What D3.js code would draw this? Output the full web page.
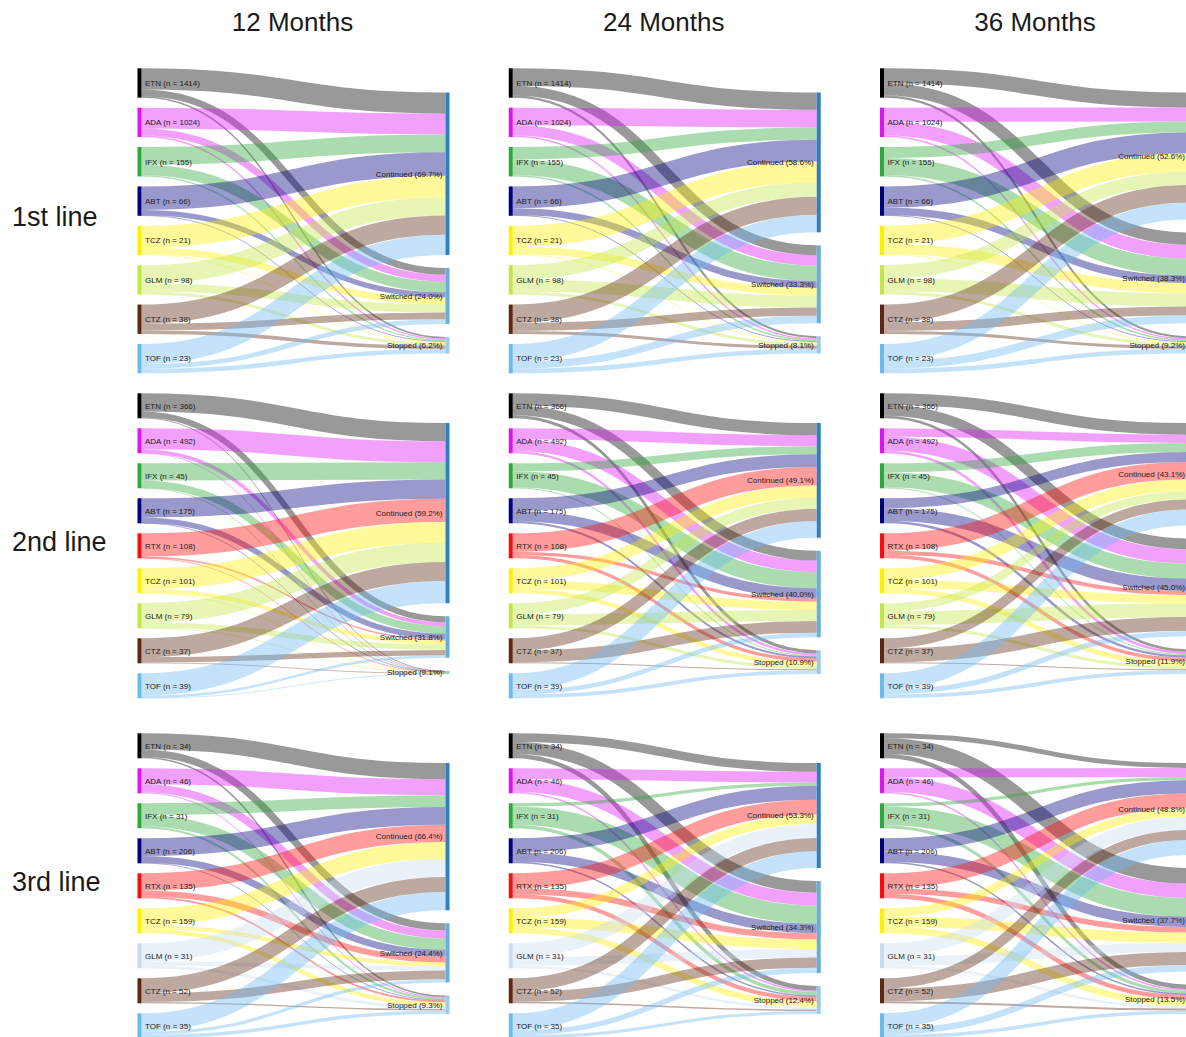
<!DOCTYPE html>
<html>
<head>
<meta charset="utf-8">
<title>Treatment persistence by line of therapy</title>
<script src="https://cdn.jsdelivr.net/npm/d3@7"></script>
<style>
  html, body { margin: 0; padding: 0; background: #fff; }
  svg { display: block; font-family: "Liberation Sans", Arial, Helvetica, sans-serif; }
</style>
</head>
<body>
<script>
// ---- data ------------------------------------------------------------
const periods = ["12 Months", "24 Months", "36 Months"];
const lines = ["1st line", "2nd line", "3rd line"];
const outcomes = ["Continued", "Switched", "Stopped"];

const drugsLine1 = ["ETN", "ADA", "IFX", "ABT", "TCZ", "GLM", "CTZ", "TOF"];
const drugsLine23 = ["ETN", "ADA", "IFX", "ABT", "RTX", "TCZ", "GLM", "CTZ", "TOF"];

const countsLine1 = [1414, 1024, 155, 66, 21, 98, 38, 23];
const countsLine2 = [366, 492, 45, 175, 108, 101, 79, 37, 39];
const countsLine3 = [34, 46, 31, 206, 135, 159, 31, 52, 35];

// overall outcome percentages shown on the right-hand nodes [period][outcome]
const outcomePctLine1 = [[69.7, 24.0, 6.2], [58.6, 33.3, 8.1], [52.6, 38.3, 9.2]];
const outcomePctLine2 = [[59.2, 31.8, 9.1], [49.1, 40.0, 10.9], [43.1, 45.0, 11.9]];
const outcomePctLine3 = [[66.4, 24.4, 9.3], [53.3, 34.3, 12.4], [48.8, 37.7, 13.5]];

// per-drug split (% continued, % switched, % stopped)
const line1m12 = [[72, 23, 5], [71, 24, 5], [60, 36, 4], [80, 18, 2], [74, 23, 3], [62, 28, 10], [65, 23, 12], [69, 16, 15]];
const line1m24 = [[59, 34, 7], [60, 35, 5], [42, 53, 5], [74, 23, 3], [71, 26, 3], [49, 41, 10], [62, 28, 10], [59, 25, 16]];
const line1m36 = [[51, 42, 7], [48, 47, 5], [37, 58, 5], [72, 25, 3], [62, 35, 3], [45, 45, 10], [60, 30, 10], [57, 27, 16]];

const line2m12 = [[73, 24, 3], [84, 15, 1], [69, 30, 1], [77, 22, 1], [93, 6, 1], [83, 16, 1], [77, 22, 1], [76, 21, 3], [89, 10, 1]];
const line2m24 = [[49, 39, 12], [44, 47, 9], [32, 64, 4], [51, 41, 8], [74, 13, 13], [49, 33, 18], [44, 44, 12], [49, 47, 4], [67, 18, 15]];
const line2m36 = [[47, 43, 10], [33, 57, 10], [36, 60, 4], [40, 50, 10], [70, 16, 14], [47, 33, 20], [33, 55, 12], [40, 56, 4], [64, 21, 15]];

const line3m12 = [[65, 29, 6], [64, 32, 4], [47, 45, 8], [71, 27, 2], [69, 24, 7], [67, 16, 17], [73, 16, 11], [60, 35, 5], [73, 13, 14]];
const line3m24 = [[35, 47, 18], [43, 51, 6], [13, 73, 14], [56, 38, 6], [60, 24, 16], [37, 39, 24], [56, 34, 10], [53, 41, 6], [67, 21, 12]];
const line3m36 = [[20, 62, 18], [36, 58, 6], [13, 75, 12], [53, 41, 6], [60, 22, 18], [33, 41, 26], [53, 37, 10], [40, 52, 8], [60, 26, 14]];

const rowsSpec = [
  { drugs: drugsLine1, counts: countsLine1, pct: outcomePctLine1, flows: [line1m12, line1m24, line1m36] },
  { drugs: drugsLine23, counts: countsLine2, pct: outcomePctLine2, flows: [line2m12, line2m24, line2m36] },
  { drugs: drugsLine23, counts: countsLine3, pct: outcomePctLine3, flows: [line3m12, line3m24, line3m36] }
];

// ---- colours -----------------------------------------------------------
const drugColor = {
  ETN: "#000000", ADA: "#dc14f5", IFX: "#2ea83a", ABT: "#00007e", RTX: "#ff0a0a",
  TCZ: "#fff000", GLM: "#c3e646", CTZ: "#5c2812", TOF: "#6cb8f2"
};
const glmColorLine3 = "#c8dcf0";
const outcomeColor = ["#2f7fc1", "#6aaedc", "#9ccbe8"];

// ---- layout ------------------------------------------------------------
const W = 1186, H = 1037;
const colX = d3.scaleLinear().domain([0, 2]).range([137.5, 880]);   // left node x per period
const rowY = d3.scaleOrdinal().domain([0, 1, 2]).range([68.3, 393.3, 733.3]);
const panelH = 305, nodeW = 4, span = 308, nodePad = 10, rightPad = 13;

const svg = d3.select("body").append("svg").attr("width", W).attr("height", H);
const link = d3.linkHorizontal();

// column headers
svg.selectAll("text.period").data(periods).join("text")
  .attr("class", "period")
  .attr("x", (d, i) => colX(i) + (span + nodeW) / 2 - 1)
  .attr("y", 31)
  .attr("text-anchor", "middle")
  .attr("font-size", 26)
  .attr("fill", "#1a1a1a")
  .text(d => d);

// row headers
svg.selectAll("text.line").data(lines).join("text")
  .attr("class", "line")
  .attr("x", 12)
  .attr("y", (d, i) => rowY(i) + panelH / 2 - 4.5)
  .attr("dy", "0.35em")
  .attr("font-size", 27)
  .attr("fill", "#1a1a1a")
  .text(d => d);

rowsSpec.forEach((row, r) => {
  const n = row.drugs.length;
  const nodeH = (panelH - (n - 1) * nodePad) / n;
  const y = d3.scaleLinear().domain([0, 100]).range([0, nodeH]);
  const colorOf = d => (r === 2 && d === "GLM") ? glmColorLine3 : drugColor[d];

  row.flows.forEach((flows, c) => {
    const top = rowY(r);
    const xL = colX(c);
    const xR = xL + span;
    const g = svg.append("g");

    // left nodes
    const left = row.drugs.map((d, i) => ({
      name: d, n: row.counts[i],
      y0: top + i * (nodeH + nodePad), y1: top + i * (nodeH + nodePad) + nodeH
    }));

    // right nodes
    const totals = outcomes.map((o, j) => d3.sum(flows, f => y(f[j])));
    const extra = panelH - d3.sum(totals) - 2 * rightPad;
    let yy = top + extra * 0.55;
    const right = outcomes.map((o, j) => {
      const node = { name: o, pct: row.pct[c][j], y0: yy, y1: yy + totals[j] };
      yy = node.y1 + rightPad;
      return node;
    });

    // links: at the source ordered by outcome, at the target ordered by drug
    const links = [];
    const targetOffset = [0, 0, 0];
    row.drugs.forEach((d, i) => {
      let srcOffset = 0;
      outcomes.forEach((o, j) => {
        const w = y(flows[i][j]);
        if (w > 0) {
          links.push({
            drug: d, w,
            sy: left[i].y0 + srcOffset + w / 2,
            ty: right[j].y0 + targetOffset[j] + w / 2
          });
        }
        srcOffset += w;
        targetOffset[j] += w;
      });
    });

    g.append("g")
      .attr("fill", "none")
      .selectAll("path").data(links).join("path")
      .attr("d", l => link({ source: [xL + nodeW, l.sy], target: [xR, l.ty] }))
      .attr("stroke", l => colorOf(l.drug))
      .attr("stroke-opacity", 0.4)
      .attr("stroke-width", l => Math.max(0.8, l.w));

    g.append("g").selectAll("rect").data(left).join("rect")
      .attr("x", xL).attr("y", d => d.y0)
      .attr("width", nodeW).attr("height", d => d.y1 - d.y0)
      .attr("fill", d => colorOf(d.name));

    g.append("g").selectAll("rect").data(right).join("rect")
      .attr("x", xR).attr("y", d => d.y0)
      .attr("width", nodeW).attr("height", d => Math.max(1, d.y1 - d.y0))
      .attr("fill", (d, j) => outcomeColor[j]);

    g.append("g").attr("font-size", 8).attr("fill", "#222")
      .selectAll("text").data(left).join("text")
      .attr("x", xL + nodeW + 3.5)
      .attr("y", d => (d.y0 + d.y1) / 2)
      .attr("dy", "0.35em")
      .text(d => `${d.name} (n = ${d.n})`);

    g.append("g").attr("font-size", 8).attr("fill", "#222")
      .selectAll("text").data(right).join("text")
      .attr("x", xR - 3)
      .attr("y", d => (d.y0 + d.y1) / 2)
      .attr("dy", "0.35em")
      .attr("text-anchor", "end")
      .text(d => `${d.name} (${d.pct.toFixed(1)}%)`);
  });
});
</script>
</body>
</html>
